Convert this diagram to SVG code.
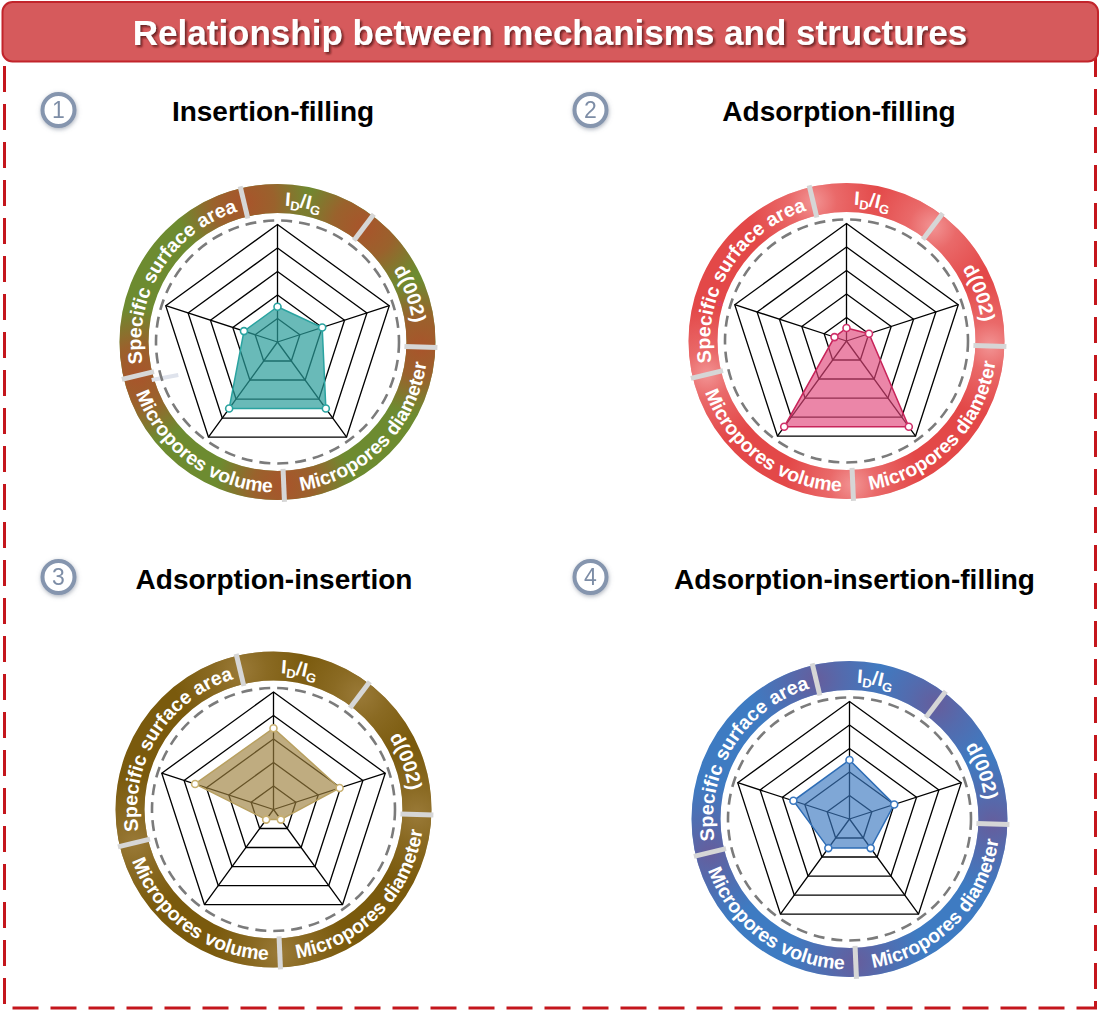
<svg xmlns="http://www.w3.org/2000/svg" xmlns:xlink="http://www.w3.org/1999/xlink" width="1102" height="1016" viewBox="0 0 1102 1016">
<style>
.sub{font-family:"Liberation Sans",Arial,sans-serif;font-weight:bold;font-size:28px;fill:#000;text-anchor:middle}
.ttl{font-family:"Liberation Sans",Arial,sans-serif;font-weight:bold;font-size:35px;fill:#fff;text-anchor:middle}
.rt{font-family:"Liberation Sans",Arial,sans-serif;font-weight:bold;font-size:19.5px;fill:#fff}
.grid{fill:none;stroke:#000;stroke-width:1.3}
.dash{fill:none;stroke:#7b7b7b;stroke-width:2.6;stroke-dasharray:11 7}
.sep{stroke:#d6d6d6;stroke-width:5}
.badge circle{fill:#fff;stroke:#8595ae;stroke-width:4}
.badge text{font-family:"Liberation Sans",Arial,sans-serif;font-size:23px;fill:#7d8da6;text-anchor:middle}
.mk{fill:#fff;stroke-width:1.6}
</style>
<defs>
<filter id="tsh" x="-5%" y="-30%" width="110%" height="160%"><feDropShadow dx="2" dy="2" stdDeviation="1.2" flood-color="#4a0808" flood-opacity="0.75"/></filter>
<filter id="bsh" x="-50%" y="-50%" width="200%" height="200%"><feDropShadow dx="0.5" dy="1.5" stdDeviation="2" flood-color="#6a7488" flood-opacity="0.55"/></filter>
<clipPath id="ringclip"><path clip-rule="evenodd" d="M-158 0A158 158 0 1 0 158 0A158 158 0 1 0 -158 0ZM-129 0A129 129 0 1 0 129 0A129 129 0 1 0 -129 0Z"/></clipPath>
<radialGradient id="ov1"><stop offset="0" stop-color="#a9542b"/><stop offset="0.45" stop-color="#a9542b" stop-opacity="0.75"/><stop offset="1" stop-color="#a9542b" stop-opacity="0"/></radialGradient>
<radialGradient id="ov2"><stop offset="0" stop-color="#f6a7a7" stop-opacity="0.8"/><stop offset="0.35" stop-color="#f6a7a7" stop-opacity="0.35"/><stop offset="1" stop-color="#f6a7a7" stop-opacity="0"/></radialGradient>
<radialGradient id="ov3"><stop offset="0" stop-color="#9a7a38"/><stop offset="0.4" stop-color="#9a7a38" stop-opacity="0.5"/><stop offset="1" stop-color="#9a7a38" stop-opacity="0"/></radialGradient>
<radialGradient id="ov4"><stop offset="0" stop-color="#6a5a98" stop-opacity="0.9"/><stop offset="0.4" stop-color="#6a5a98" stop-opacity="0.5"/><stop offset="1" stop-color="#6a5a98" stop-opacity="0"/></radialGradient>
<g id="ovs">
<circle cx="-33.5" cy="-139.5" r="68"/>
<circle cx="86.4" cy="-114.6" r="68"/>
<circle cx="143.4" cy="5" r="68"/>
<circle cx="6.3" cy="143.4" r="68"/>
<circle cx="-139.5" cy="33.5" r="68"/>
</g>
<g id="seps" class="sep">
<line x1="-29.64" y1="-123.49" x2="-37.34" y2="-155.58"/>
<line x1="76.43" y1="-101.42" x2="96.29" y2="-127.78"/>
<line x1="126.92" y1="4.43" x2="159.9" y2="5.58"/>
<line x1="5.54" y1="126.87" x2="6.98" y2="159.84"/>
<line x1="-123.49" y1="29.64" x2="-155.58" y2="37.34"/>
</g>
<g id="gridshape" class="grid">
<polygon points="0,-117.5 111.75,-36.31 69.07,95.06 -69.07,95.06 -111.75,-36.31"/>
<polygon points="0,-94 89.4,-29.05 55.25,76.05 -55.25,76.05 -89.4,-29.05"/>
<polygon points="0,-70.5 67.05,-21.78 41.44,57.03 -41.44,57.03 -67.05,-21.78"/>
<polygon points="0,-47 44.7,-14.52 27.63,38.02 -27.63,38.02 -44.7,-14.52"/>
<polygon points="0,-23.5 22.35,-7.26 13.81,19.01 -13.81,19.01 -22.35,-7.26"/>
<path d="M0 0L0 -117.5M0 0L111.75 -36.31M0 0L69.07 95.06M0 0L-69.07 95.06M0 0L-111.75 -36.31"/>
</g>
<circle id="dashc" class="dash" r="121.5"/>
<path id="p-idig" d="M-131.54 -36.47A136.5 136.5 0 0 1 135.87 13.08"/>
<path id="p-d002" d="M-35.33 -131.85A136.5 136.5 0 0 1 57.69 123.71"/>
<path id="p-ssa" d="M-82.15 109.01A136.5 136.5 0 0 1 61.97 -121.62"/>
<path id="p-md" d="M-95.74 116.13A150.5 150.5 0 0 0 114.44 -97.73"/>
<path id="p-mv" d="M-129.01 -77.51A150.5 150.5 0 0 0 113.58 98.74"/>
<g id="labels" class="rt">
<text><textPath href="#p-idig" xlink:href="#p-idig" startOffset="50%" text-anchor="middle">I<tspan font-size="13" dy="4">D</tspan><tspan dy="-4">/I</tspan><tspan font-size="13" dy="4">G</tspan></textPath></text>
<text><textPath href="#p-d002" xlink:href="#p-d002" startOffset="50%" text-anchor="middle">d(002)</textPath></text>
<text><textPath href="#p-ssa" xlink:href="#p-ssa" startOffset="50%" text-anchor="middle">Specific surface area</textPath></text>
<text><textPath href="#p-md" xlink:href="#p-md" startOffset="50%" text-anchor="middle">Micropores diameter</textPath></text>
<text><textPath href="#p-mv" xlink:href="#p-mv" startOffset="50%" text-anchor="middle">Micropores volume</textPath></text>
</g>
</defs>

<rect id="frame" x="4.5" y="40" width="1091" height="968" fill="none" stroke="#c4161c" stroke-width="3" stroke-dasharray="26 12"/>

<g id="title">
<rect x="2.5" y="2" width="1095.5" height="59.5" rx="10" fill="#d65a5c" stroke="#c2242b" stroke-width="2"/>
<text class="ttl" x="550" y="45" filter="url(#tsh)">Relationship between mechanisms and structures</text>
</g>

<g id="connectors"/>

<g id="panel1-head">
<g class="badge" filter="url(#bsh)"><circle cx="58.5" cy="110" r="16"/><text x="58.5" y="118.3">1</text></g>
<text class="sub" x="273" y="121">Insertion-filling</text>
</g>
<g id="panel2-head">
<g class="badge" filter="url(#bsh)"><circle cx="590.5" cy="110" r="16"/><text x="590.5" y="118.3">2</text></g>
<text class="sub" x="839" y="121">Adsorption-filling</text>
</g>
<g id="panel3-head">
<g class="badge" filter="url(#bsh)"><circle cx="58.5" cy="577" r="16"/><text x="58.5" y="585.3">3</text></g>
<text class="sub" x="274" y="588.5">Adsorption-insertion</text>
</g>
<g id="panel4-head">
<g class="badge" filter="url(#bsh)"><circle cx="590.5" cy="577" r="16"/><text x="590.5" y="585.3">4</text></g>
<text class="sub" x="854.5" y="588.5">Adsorption-insertion-filling</text>
</g>

<g id="chart1" transform="translate(277.5,342)">
<circle r="143.5" fill="none" stroke="#6d8b30" stroke-width="29"/>
<g clip-path="url(#ringclip)"><use href="#ovs" xlink:href="#ovs" fill="url(#ov1)"/></g>
<use href="#seps" xlink:href="#seps"/>
<use href="#labels" xlink:href="#labels"/>
<line x1="-125.8" y1="38" x2="-99.2" y2="33" stroke="#dfe3ec" stroke-width="4"/>
<use href="#dashc" xlink:href="#dashc"/>
<use href="#gridshape" xlink:href="#gridshape"/>
<polygon points="0,-35.25 44.7,-14.52 48.35,66.54 -48.35,66.54 -33.53,-10.89" fill="#2a9d9a" fill-opacity="0.7" stroke="#2aa3a0" stroke-width="1.5"/>
<g class="mk" stroke="#2aa3a0"><circle cx="0" cy="-35.25" r="3.5"/><circle cx="44.7" cy="-14.52" r="3.5"/><circle cx="48.35" cy="66.54" r="3.5"/><circle cx="-48.35" cy="66.54" r="3.5"/><circle cx="-33.53" cy="-10.89" r="3.5"/></g>
</g>

<g id="chart2" transform="translate(846.5,341)">
<circle r="143.5" fill="none" stroke="#e34848" stroke-width="29"/>
<g clip-path="url(#ringclip)"><use href="#ovs" xlink:href="#ovs" fill="url(#ov2)"/></g>
<use href="#seps" xlink:href="#seps"/>
<use href="#labels" xlink:href="#labels"/>
<text x="-129" y="-35" font-family="Liberation Sans, Arial, sans-serif" font-size="9" fill="#e0407a">a</text>
<use href="#dashc" xlink:href="#dashc"/>
<use href="#gridshape" xlink:href="#gridshape"/>
<polygon points="0,-13 22.5,-7.3 62.3,85.8 -62.3,85.8 -12,-3.9" fill="#e0457a" fill-opacity="0.65" stroke="#c8245a" stroke-width="1.5"/>
<g class="mk" stroke="#d0306a"><circle cx="0" cy="-13" r="3.5"/><circle cx="22.5" cy="-7.3" r="3.5"/><circle cx="62.3" cy="85.8" r="3.5"/><circle cx="-62.3" cy="85.8" r="3.5"/><circle cx="-12" cy="-3.9" r="3.5"/></g>
</g>

<g id="chart3" transform="translate(273.5,809.5)">
<circle r="143.5" fill="none" stroke="#7a5a0d" stroke-width="29"/>
<g clip-path="url(#ringclip)"><use href="#ovs" xlink:href="#ovs" fill="url(#ov3)"/></g>
<use href="#seps" xlink:href="#seps"/>
<use href="#labels" xlink:href="#labels"/>
<use href="#dashc" xlink:href="#dashc"/>
<use href="#gridshape" xlink:href="#gridshape"/>
<polygon points="0,-81.3 66.1,-21.5 7.35,10.1 -7.35,10.1 -78.4,-25.5" fill="#9c7f3c" fill-opacity="0.65" stroke="#b8a060" stroke-width="1.5"/>
<g class="mk" stroke="#c8b070"><circle cx="0" cy="-81.3" r="3.5"/><circle cx="66.1" cy="-21.5" r="3.5"/><circle cx="7.35" cy="10.1" r="3.5"/><circle cx="-7.35" cy="10.1" r="3.5"/><circle cx="-78.4" cy="-25.5" r="3.5"/></g>
</g>

<g id="chart4" transform="translate(849.5,819)">
<circle r="143.5" fill="none" stroke="#3e7bc2" stroke-width="29"/>
<g clip-path="url(#ringclip)"><use href="#ovs" xlink:href="#ovs" fill="url(#ov4)"/></g>
<use href="#seps" xlink:href="#seps"/>
<use href="#labels" xlink:href="#labels"/>
<use href="#dashc" xlink:href="#dashc"/>
<use href="#gridshape" xlink:href="#gridshape"/>
<polygon points="0,-59 44.7,-14.52 21.16,29.12 -21.16,29.12 -56.11,-18.23" fill="#3a78c0" fill-opacity="0.65" stroke="#2e6db5" stroke-width="1.5"/>
<g class="mk" stroke="#3a78c0"><circle cx="0" cy="-59" r="3.5"/><circle cx="44.7" cy="-14.52" r="3.5"/><circle cx="21.16" cy="29.12" r="3.5"/><circle cx="-21.16" cy="29.12" r="3.5"/><circle cx="-56.11" cy="-18.23" r="3.5"/></g>
</g>
</svg>
